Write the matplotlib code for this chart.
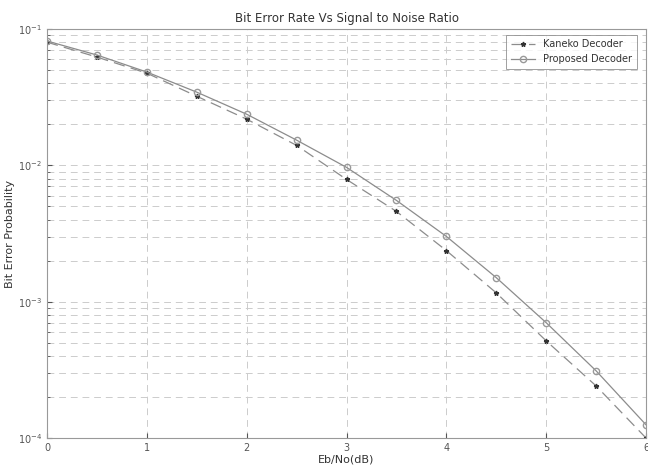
import numpy as np
import matplotlib
matplotlib.use("Agg")
import matplotlib.pyplot as plt

# Eb/No values (dB)
ebno = [0, 0.5, 1, 1.5, 2, 2.5, 3, 3.5, 4, 4.5, 5, 5.5, 6]

# bit error probability
kaneko = [0.080, 0.0622, 0.0474, 0.0321, 0.0218, 0.0140, 0.00788,
          0.00459, 0.00237, 0.00116, 0.000516, 0.000241, 0.0001]
proposed = [0.0816, 0.0644, 0.0483, 0.0344, 0.0237, 0.0153, 0.00966,
            0.00553, 0.00301, 0.0015, 0.000701, 0.000311, 0.000125]

fig = plt.figure(figsize=(6.48, 4.67), dpi=100)
ax = fig.add_axes([0.0725, 0.062, 0.9245, 0.876])

ax.semilogy(ebno, kaneko, linestyle=(0, (9, 5)), color='#8c8c8c', lw=0.9,
            marker='*', ms=3.5, mfc='#333333', mec='#333333', label='Kaneko Decoder')
ax.semilogy(ebno, proposed, linestyle='-', color='#8c8c8c', lw=0.9,
            marker='o', ms=4.5, mfc='none', mec='#999999', label='Proposed Decoder')

ax.set_xlim(0, 6)
ax.set_ylim(1e-4, 1e-1)
ax.set_xticks(range(7))
ax.grid(True, which='both', axis='y', linestyle=(0, (7, 5)), color='#cccccc', lw=0.7)
ax.grid(True, which='major', axis='x', linestyle=(0, (7, 5)), color='#cccccc', lw=0.7)
ax.tick_params(which='both', direction='in', labelsize=7, colors='#555555')
for s in ax.spines.values():
    s.set_color('#999999')

ax.set_title('Bit Error Rate Vs Signal to Noise Ratio', fontsize=8.5, color='#333333', pad=5)
ax.set_xlabel('Eb/No(dB)', fontsize=8, color='#333333', labelpad=1)
ax.set_ylabel('Bit Error Probability', fontsize=8, color='#333333', labelpad=2)

leg = ax.legend(loc='upper right', fontsize=7, fancybox=False, edgecolor='#888888',
                handlelength=2.5, borderpad=0.5, bbox_to_anchor=(0.993, 0.998))
leg.get_frame().set_linewidth(0.7)
for t in leg.get_texts():
    t.set_color('#333333')

fig.savefig('out.png', dpi=100)
